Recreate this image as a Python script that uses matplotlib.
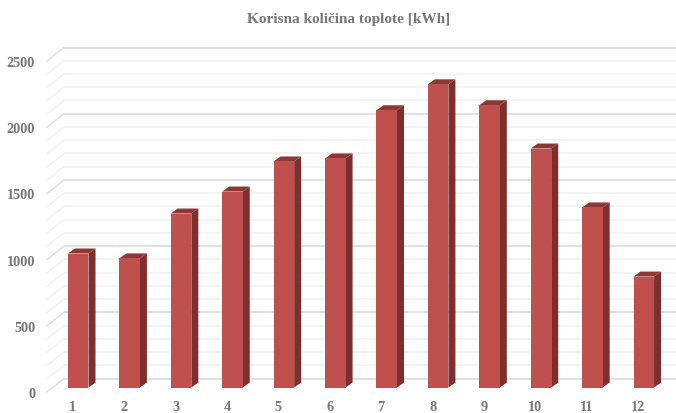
import numpy as np
import matplotlib
matplotlib.use("Agg")
import matplotlib.pyplot as plt
from matplotlib.patches import Polygon
from matplotlib.transforms import offset_copy

months = list(range(1, 13))
heat_kwh = [1012, 975, 1314, 1480, 1707, 1730, 2094, 2290, 2132, 1805, 1360, 838]
title = "Korisna količina toplote [kWh]"
y_major = [0, 500, 1000, 1500, 2000, 2500]
y_all = list(range(0, 2600, 100))

W, H = 676, 414
L, R, B, T = 47, 664, 393, 62
plt.rcParams["font.family"] = ["Liberation Serif", "DejaVu Serif"]
GRAY = "#777777"

fig = plt.figure(figsize=(W / 100, H / 100), dpi=100, facecolor="white")
ax = fig.add_axes([L / W, 1 - B / H, (R - L) / W, (B - T) / H])
ax.set_xlim(0.5, 12.5)
ax.set_ylim(0, 2500)
ax.patch.set_alpha(0)
for s in ax.spines.values():
    s.set_visible(False)

px_x = (R - L) / 12
px_y = (B - T) / 2500
back = offset_copy(ax.transData, fig=fig, x=17, y=13.5, units="dots")
plane = offset_copy(ax.transData, fig=fig, x=5.5, y=4.5, units="dots")
dx_back, dy_back = 17 / px_x, 13.5 / px_y

for v in y_all:
    major = v in y_major
    c = "#e0e0e0" if major else "#f3f3f3"
    lw = 1.4 if major else 1.3
    ax.plot([0.5, 12.5], [v, v], transform=back, color=c, lw=lw, clip_on=False, zorder=1,
            solid_capstyle="butt")
    ax.plot([0.5, 0.5 + dx_back], [v, v + dy_back], color=c, lw=1.1, clip_on=False, zorder=1)

bar_w = 0.4
dx, dy = 7 / px_x, 5 / px_y
bars = ax.bar(months, heat_kwh, width=bar_w, color="#C0504D", transform=plane, zorder=4,
              clip_on=False)
for m, v in zip(months, heat_kwh):
    x0, x1 = m - bar_w / 2, m + bar_w / 2
    ax.add_patch(Polygon([(x1, 0), (x1 + dx, dy), (x1 + dx, v + dy), (x1, v)], closed=True,
                         fc="#7C2F2D", ec="none", transform=plane, zorder=3, clip_on=False))
    ax.add_patch(Polygon([(x0, v), (x0 + dx, v + dy), (x1 + dx, v + dy), (x1, v)], closed=True,
                         fc="#8E3836", ec="none", transform=plane, zorder=3, clip_on=False))

ax.set_xticks(months, [str(m) for m in months])
ax.set_yticks(y_major, [str(v) for v in y_major])
ax.tick_params(axis="both", length=0, labelsize=10.3, labelcolor=GRAY)
ax.tick_params(axis="x", pad=5.5)
ax.tick_params(axis="y", pad=8.5)
for lab in ax.get_xticklabels() + ax.get_yticklabels():
    lab.set_fontweight("bold")

fig.text(349 / W, 1 - 19 / H, title, ha="center", va="center", fontsize=11,
         fontweight="bold", color=GRAY)
fig.savefig("out.png", dpi=100)
